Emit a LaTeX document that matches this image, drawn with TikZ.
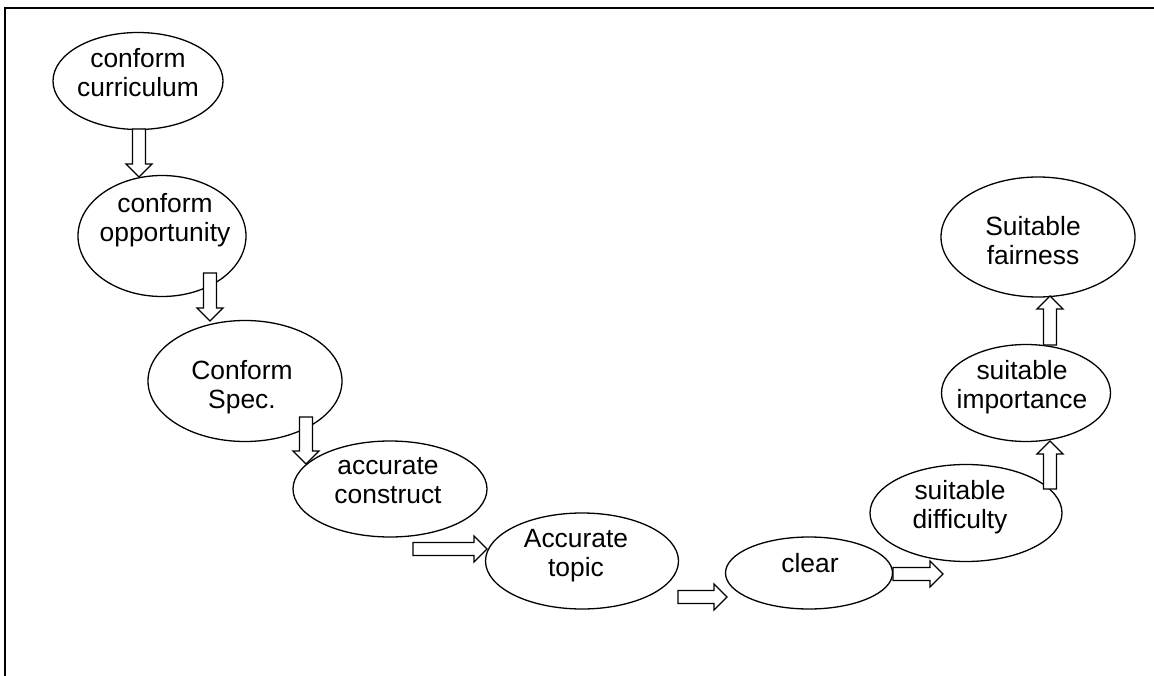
\documentclass[tikz,border=0pt]{standalone}
\usepackage{fontspec}
\setmainfont{Liberation Sans}
\usetikzlibrary{calc,shapes.geometric}
\newcommand{\shw}{6.5}
\newcommand{\hdw}{13}
\newcommand{\hdl}{13}
\tikzset{
  oval/.style     = {ellipse, draw=black, line width=1.3pt, inner sep=0pt},
  ovaltext/.style = {align=center, inner sep=0pt, font=\fontsize{26.4}{29}\selectfont},
  pageframe/.style= {line width=2pt, draw=black},
  blockarrow/.style = {draw=black, line width=1.3pt, fill=white,
    to path={
      let \p1=(\tikztostart), \p2=(\tikztotarget),
          \n1={veclen(\x2-\x1,\y2-\y1)}, \n2={atan2(\y2-\y1,\x2-\x1)}, \n3={\n1-\hdl} in
      ($(\p1)+(\n2+90:\shw pt)$) -- ($(\p1)+(\n2:\n3)+(\n2+90:\shw pt)$)
      -- ($(\p1)+(\n2:\n3)+(\n2+90:\hdw pt)$) -- (\p2)
      -- ($(\p1)+(\n2:\n3)+(\n2-90:\hdw pt)$) -- ($(\p1)+(\n2:\n3)+(\n2-90:\shw pt)$)
      -- ($(\p1)+(\n2-90:\shw pt)$) -- cycle
    }}
}
\begin{document}
\begin{tikzpicture}[x=1pt, y=-1pt]
  \useasboundingbox (0,0) rectangle (1154,676);
  % frame (open at right and bottom)
  \draw[pageframe] (5,676) -- (5,8) -- (1154,8);

  % ovals
  \node[oval, minimum width=170pt, minimum height=97pt]  (curr)   at (138,81)  {};
  \node[oval, minimum width=168pt, minimum height=121pt] (opp)    at (162,236) {};
  \node[oval, minimum width=194pt, minimum height=121pt] (spec)   at (245,381) {};
  \node[oval, minimum width=194pt, minimum height=96pt]  (constr) at (390,489) {};
  \node[oval, minimum width=193pt, minimum height=96pt]  (topic)  at (582,561) {};
  \node[oval, minimum width=167pt, minimum height=72pt]  (clear)  at (809,573) {};
  \node[oval, minimum width=192pt, minimum height=97pt]  (diff)   at (966,513) {};
  \node[oval, minimum width=169pt, minimum height=97pt]  (imp)    at (1026,393) {};
  \node[oval, minimum width=194pt, minimum height=120pt] (fair)   at (1038,237) {};

  % texts
  \node[ovaltext] (curr-t)   at (138,73)  {conform\\curriculum};
  \node[ovaltext] (opp-t)    at (165,220) {conform\\opportunity};
  \node[ovaltext] (spec-t)   at (242,387) {Conform\\Spec.};
  \node[ovaltext] (constr-t) at (388,481) {accurate\\construct};
  \node[ovaltext] (topic-t)  at (576,556) {Accurate\\topic};
  \node[ovaltext] (clear-t)  at (810,563) {clear};
  \node[ovaltext] (diff-t)   at (960,507) {suitable\\difficulty};
  \node[ovaltext] (imp-t)    at (1022,387) {suitable\\importance};
  \node[ovaltext] (fair-t)   at (1033,241) {Suitable\\fairness};

  % hollow block arrows
  \draw[blockarrow] ($(curr)+(1,48)$) to ($(opp)+(-23,-59)$);
  \draw[blockarrow] ($(opp)+(48,37)$) to ($(spec)+(-35,-60)$);
  \draw[blockarrow] ($(spec)+(61,36)$) to ($(constr)+(-84,-25)$);
  \draw[blockarrow] ($(constr)+(23,60)$) to ($(topic)+(-95,-12)$);
  \draw[blockarrow] ($(topic)+(96,36)$) to ($(clear)+(-82,24)$);
  \draw[blockarrow] ($(clear)+(84,1)$) to ($(diff)+(-23,61)$);
  \draw[blockarrow] ($(diff)+(84,-24)$) to ($(imp)+(24,48)$);
  \draw[blockarrow] ($(imp)+(24,-48)$) to ($(fair)+(12,59)$);
\end{tikzpicture}
\end{document}
